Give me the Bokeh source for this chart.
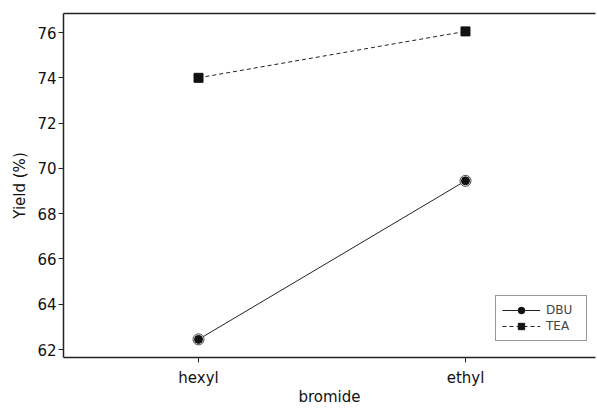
from bokeh.plotting import figure
from bokeh.models import ColumnDataSource, Legend, LegendItem, FixedTicker, LinearAxis
from bokeh.embed import file_html
from bokeh.resources import INLINE

categories = ["hexyl", "ethyl"]
dbu = [62.45, 69.45]
tea = [74.0, 76.05]
y_ticks = [62, 64, 66, 68, 70, 72, 74, 76]

xpos = list(range(len(categories)))
src_dbu = ColumnDataSource(dict(x=xpos, y=dbu))
src_tea = ColumnDataSource(dict(x=xpos, y=tea))

FONT = "DejaVu Sans"
INK = "#222222"

p = figure(width=597, height=408, output_backend="svg", toolbar_location=None,
           x_range=(-0.5058, 1.4870), y_range=(61.65, 76.84),
           min_border_left=63, min_border_right=2, min_border_top=13, min_border_bottom=50)
p.outline_line_color = None
p.grid.visible = False
p.background_fill_color = "white"
p.border_fill_color = "white"

top_axis = LinearAxis(ticker=FixedTicker(ticks=[]), major_label_text_font_size="0px",
                      axis_line_color=INK, axis_line_width=1.5,
                      major_tick_line_color=None, minor_tick_line_color=None,
                      major_label_standoff=0)
p.add_layout(top_axis, "above")

l_dbu = p.line("x", "y", source=src_dbu, line_color=INK, line_width=1)
s_dbu_ring = p.scatter("x", "y", source=src_dbu, marker="circle", size=11,
                       fill_color="white", line_color="#444444", line_width=1)
s_dbu = p.scatter("x", "y", source=src_dbu, marker="circle", size=8,
                  fill_color="#111111", line_color="#111111")
l_tea = p.line("x", "y", source=src_tea, line_color=INK, line_width=1, line_dash="4 3")
s_tea = p.scatter("x", "y", source=src_tea, marker="square", size=9,
                  fill_color="#111111", line_color="#111111")

p.yaxis.ticker = FixedTicker(ticks=y_ticks)
p.below[0].ticker = FixedTicker(ticks=xpos)
p.below[0].major_label_overrides = {i: c for i, c in enumerate(categories)}
for ax in (p.below[0], p.yaxis[0]):
    ax.axis_line_color = INK
    ax.axis_line_width = 1.5
    ax.major_tick_line_color = INK
    ax.major_tick_out = 5
    ax.major_tick_in = 0
    ax.minor_tick_line_color = None
    ax.major_label_text_font = FONT
    ax.major_label_text_font_size = "15px"
    ax.major_label_text_color = "#111111"
    ax.axis_label_text_font = FONT
    ax.axis_label_text_font_size = "15px"
    ax.axis_label_text_font_style = "normal"
    ax.axis_label_text_color = "#111111"
p.yaxis.axis_label = "Yield (%)"
p.below[0].axis_label = "bromide"
p.yaxis.major_label_standoff = 2
p.yaxis.axis_label_standoff = 5
p.below[0].major_label_standoff = 6
p.below[0].axis_label_standoff = -2

legend = Legend(items=[
    LegendItem(label="DBU", renderers=[l_dbu, s_dbu_ring, s_dbu]),
    LegendItem(label="TEA", renderers=[l_tea, s_tea]),
], location=(432, 16))
legend.label_text_font = FONT
legend.label_text_font_size = "12px"
legend.glyph_width = 38
legend.glyph_height = 16
legend.label_height = 16
legend.label_width = 34
legend.spacing = 0
legend.padding = 6
legend.margin = 0
legend.label_standoff = 6
legend.border_line_color = "#333333"
legend.border_line_width = 1
legend.background_fill_color = "white"
legend.background_fill_alpha = 1
p.add_layout(legend)

open("out.html", "w").write(file_html(p, INLINE))
